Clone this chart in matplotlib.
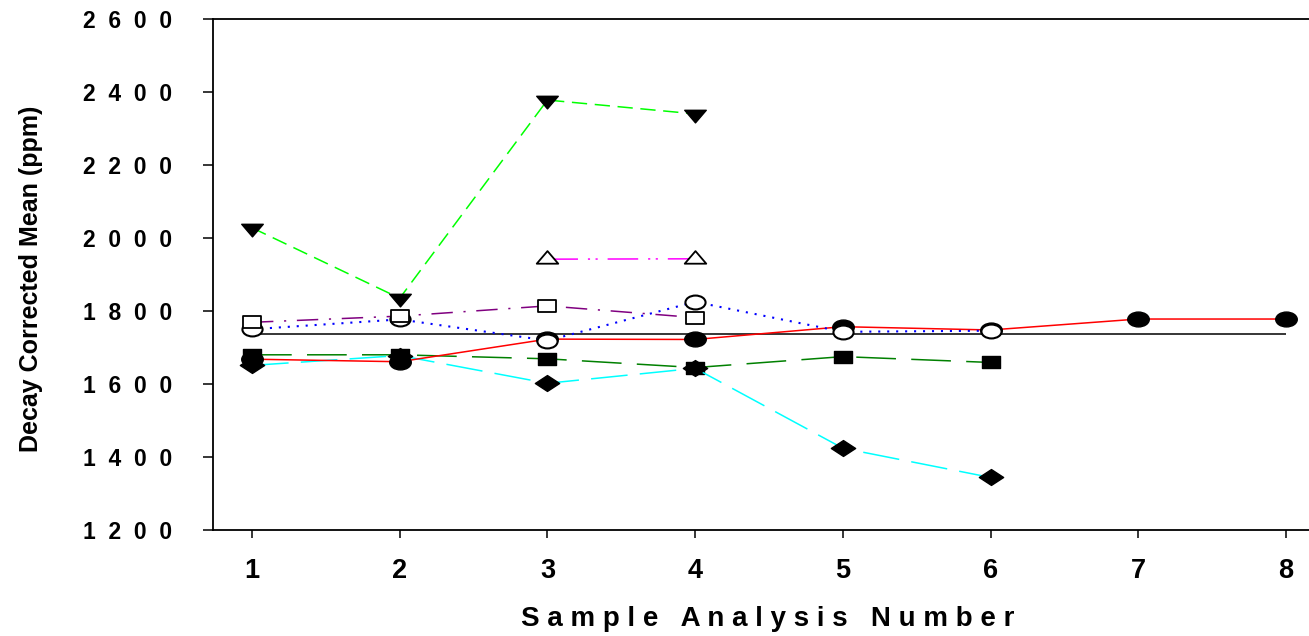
import numpy as np
import matplotlib
matplotlib.use("Agg")
import matplotlib.pyplot as plt
from matplotlib.path import Path
from matplotlib.markers import MarkerStyle

plt.rcParams['font.family'] = ['Liberation Sans', 'DejaVu Sans']
plt.rcParams['font.weight'] = 'bold'

# values
red_x = [1, 2, 3, 4, 5, 6, 7, 8]
red_y = [1668, 1661, 1723, 1722, 1757, 1748, 1778, 1778]

blue_x = [1, 2, 3, 4, 5, 6]
blue_y = [1750, 1777, 1719, 1825, 1743, 1746]

purple_x = [1, 2, 3, 4]
purple_y = [1769, 1786, 1814, 1782]

magenta_x = [3, 4]
magenta_y = [1942, 1943]

lime_x = [1, 2, 3, 4]
lime_y = [2028, 1835, 2378, 2340]

dkgreen_x = [1, 2, 3, 4, 5, 6]
dkgreen_y = [1680, 1680, 1669, 1645, 1675, 1659]

cyan_x = [1, 2, 3, 4, 5, 6]
cyan_y = [1651, 1678, 1602, 1643, 1424, 1344]

mean_value = 1736
mean_span = [1, 8]

x_ticks = [1, 2, 3, 4, 5, 6, 7, 8]
y_ticks = [1200, 1400, 1600, 1800, 2000, 2200, 2400, 2600]


def stretched(verts, sx):
    v = np.array(verts, dtype=float)
    v[:, 0] *= sx
    return MarkerStyle(Path(v, closed=True))


# markers in the reference are wider than tall
circ = Path.unit_circle()
circle_m = MarkerStyle(Path(circ.vertices * [1.45, 1.0], circ.codes))
square_m = stretched([(-1, -1), (1, -1), (1, 1), (-1, 1), (-1, -1)], 1.55)
diamond_m = stretched([(0, 1), (1, 0), (0, -1), (-1, 0), (0, 1)], 1.53)
h = 0.866
tri_down_m = stretched([(-0.5, h / 3), (0.5, h / 3), (0, -2 * h / 3), (-0.5, h / 3)], 1.48)
tri_up_m = stretched([(-0.5, -h / 3), (0.5, -h / 3), (0, 2 * h / 3), (-0.5, -h / 3)], 1.48)

fig = plt.figure(figsize=(13.09, 6.36), dpi=100)
ax = fig.add_axes([213 / 1309, 106 / 636, 1 - 213 / 1309, 511 / 636])

ax.hlines(mean_value, mean_span[0], mean_span[1], color='black', lw=1.1, zorder=2)

ax.plot(dkgreen_x, dkgreen_y, color='#008000', lw=1.1, linestyle=(0, (26, 10)),
        marker=square_m, ms=13.5, mfc='black', mec='black', zorder=3)
ax.plot(cyan_x, cyan_y, color='#00FFFF', lw=1.1, linestyle=(0, (24, 8)),
        marker=diamond_m, ms=17.5, mfc='black', mec='black', zorder=3)
ax.plot(red_x, red_y, color='red', lw=1.1, linestyle='-',
        marker=circle_m, ms=15.5, mfc='black', mec='black', zorder=3)
ax.plot(blue_x, blue_y, color='blue', lw=1.5, linestyle=(0, (1, 3.3)),
        marker=circle_m, ms=14.5, mfc='white', mec='black', mew=1.5, zorder=3)
ax.plot(purple_x, purple_y, color='#800080', lw=1.1, linestyle=(0, (14, 7, 1.4, 7)),
        marker=square_m, ms=13.5, mfc='white', mec='black', mew=1.3, zorder=3)
ax.plot(magenta_x, magenta_y, color='#FF00FF', lw=1.1, linestyle=(0, (20, 6.5, 1.4, 3.6, 1.4, 6.5)),
        marker=tri_up_m, ms=15.5, mfc='white', mec='black', mew=1.3, zorder=3)
ax.plot(lime_x, lime_y, color='#00FF00', lw=1.1, linestyle=(0, (10, 5)),
        marker=tri_down_m, ms=15.5, mfc='black', mec='black', zorder=3)

ax.set_xlim(1 - 39 / 147.7, 8 + 23 / 147.7)
ax.set_ylim(1200, 2600)

ax.set_xticks(x_ticks)
ax.set_xticklabels([str(t) for t in x_ticks], fontsize=19.5, fontweight='bold')
ax.set_yticks(y_ticks)
ax.set_yticklabels(['  '.join(str(t)) for t in y_ticks], fontsize=16.5, fontweight='bold')

ax.tick_params(axis='y', direction='out', length=7.2, width=1.1, pad=22)
ax.tick_params(axis='x', direction='out', length=5.8, width=1.1, pad=14)

for side in ['left', 'top', 'bottom']:
    ax.spines[side].set_linewidth(1.3)
ax.spines['right'].set_visible(False)

fig.text(31 / 1309, 1 - 278.5 / 636, 'Decay Corrected Mean (ppm)', rotation=90,
         ha='center', va='center', fontsize=18, fontweight='bold')

xlabel = '   '.join(' '.join(w) for w in 'Sample Analysis Number'.split())
fig.text(767.5 / 1309, 1 - 619 / 636, xlabel, ha='center', va='center',
         fontsize=20, fontweight='bold')

fig.savefig('out.png', dpi=100)
